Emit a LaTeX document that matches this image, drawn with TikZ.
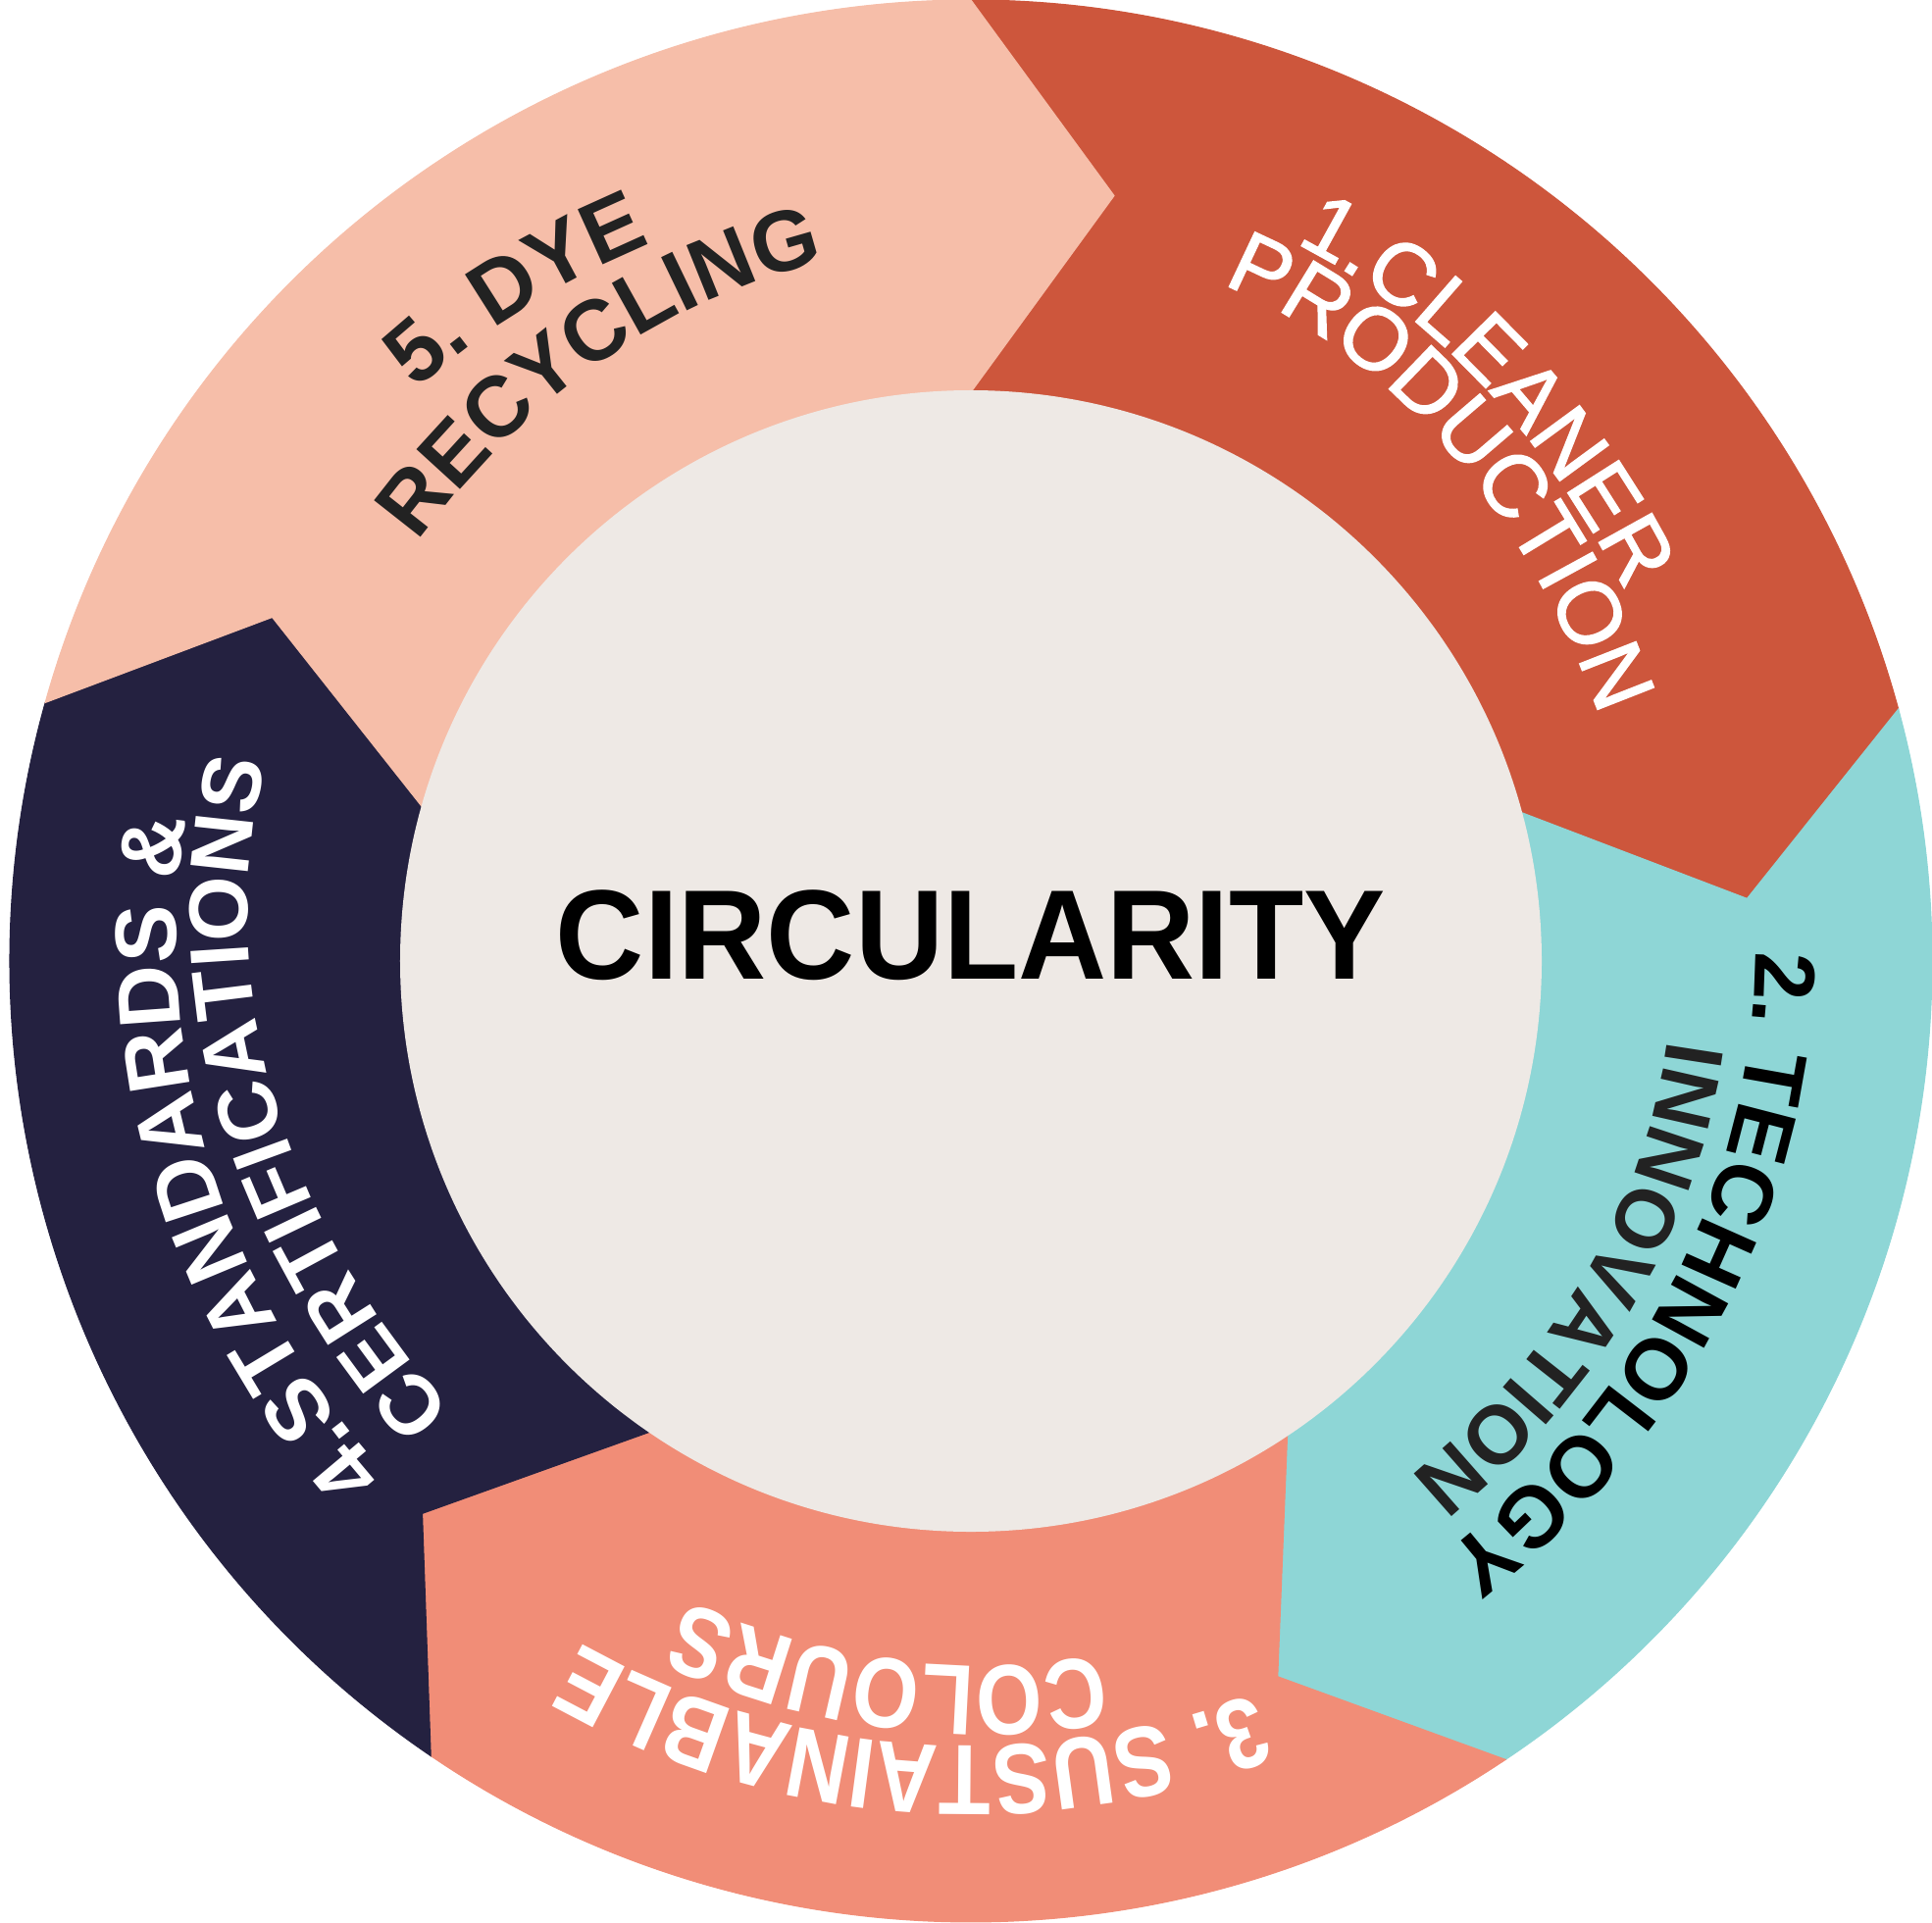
\documentclass[tikz,border=0pt]{standalone}
\usepackage{fontspec}
\setmainfont{Liberation Sans}
\newfontfamily\ringfont{Liberation Sans}
\newfontfamily\cleanfont[FakeBold=1.5]{Liberation Sans}
\newfontfamily\narrowfont[FakeStretch=0.85]{Liberation Sans}
\newfontfamily\titlefont[FakeStretch=0.96]{Liberation Sans}
\usetikzlibrary{decorations.text}

\definecolor{cleanred}{HTML}{CD563C}
\definecolor{techteal}{HTML}{8ED6D6}
\definecolor{sussalmon}{HTML}{F18D77}
\definecolor{certnavy}{HTML}{242140}
\definecolor{dyepeach}{HTML}{F6BEA9}
\definecolor{corebeige}{HTML}{EEE9E5}
\definecolor{inkgrey}{HTML}{222222}

\tikzset{
  segment/.style={fill=#1, draw=#1, line width=0.3pt},
  core/.style={fill=corebeige},
  title/.style={font=\titlefont\bfseries\fontsize{37}{37}\selectfont, inner sep=0pt}
}

% font, size, colour, start angle, end angle, start radius, end radius, text
\newcommand{\ringline}[8]{%
  \pgfmathsetmacro\angA{(#4)+6}%
  \pgfmathsetmacro\angB{(#5)-6}%
  \pgfmathsetmacro\radA{(#6)+((#6)-(#7))*6/((#4)-(#5))}%
  \pgfmathsetmacro\radB{(#7)-((#6)-(#7))*6/((#4)-(#5))}%
  \pgfmathsetmacro\outA{\angA-90}%
  \pgfmathsetmacro\inB{\angB+90}%
  \pgfmathsetmacro\loose{(4/3*tan((\angA-\angB)/4))/(2*sin((\angA-\angB)/2))/0.3915}%
  \path[decorate, decoration={text along path, text color=#3,
      text={|#1\fontsize{#2}{#2}\selectfont|#8}, text align=center}]
    (\angA:\radA) to[out=\outA, in=\inB, looseness=\loose] (\angB:\radB);
}

\begin{document}
\begin{tikzpicture}
\useasboundingbox (-9.9,-9.8) rectangle (9.8,9.8);
\def\outR{9.8}
\def\inR{5.8}
\def\tipR{7.94}
\def\tipoff{10.6}

\foreach \a/\b/\col in {90/15.2/cleanred, 15.2/-56.2/techteal, -56.2/-124.2/sussalmon,
    -124.2/-195.6/certnavy, 164.4/90/dyepeach}
  \filldraw[segment=\col] (\a:\outR) arc[start angle=\a, end angle=\b, radius=\outR]
    -- ({\b-\tipoff}:\tipR) -- (\b:\inR) arc[start angle=\b, end angle=\a, radius=\inR]
    -- ({\a-\tipoff}:\tipR) -- cycle;

\fill[core] (0,0) circle (5.82);
\node[title] (circ) at (0,0.26) {CIRCULARITY};

\ringline{\cleanfont}{25.5}{white}{65.5}{29.3}{8.00}{7.70}{1.CLEANER}
\ringline{\cleanfont}{25.5}{white}{69}{21.5}{7.32}{6.92}{PRODUCTION}
\ringline{\ringfont\bfseries}{25}{black}{0.5}{-51.5}{7.98}{7.76}{2. TECHNOLOGY}
\ringline{\ringfont\bfseries}{24}{inkgrey}{-6.8}{-49.5}{7.13}{6.93}{INNOVATION}
\ringline{\narrowfont\bfseries}{29}{white}{-68.7}{-120}{8.01}{8.01}{3. SUSTAINABLE}
\ringline{\narrowfont\bfseries}{29}{white}{-79.5}{-113.8}{7.20}{7.14}{COLOURS}
\ringline{\ringfont\bfseries}{25.3}{white}{-139}{-190}{7.95}{8.11}{4.STANDARDS {\&}}
\ringline{\ringfont\bfseries}{24.3}{white}{-139}{-195.4}{7.03}{7.43}{CERTIFICATIONS}
\ringline{\ringfont\bfseries}{25.5}{inkgrey}{134.2}{113.9}{8.10}{8.02}{5. DYE}
\ringline{\ringfont\bfseries}{24.9}{inkgrey}{143}{101.8}{7.09}{7.27}{RECYCLING}
\end{tikzpicture}
\end{document}
